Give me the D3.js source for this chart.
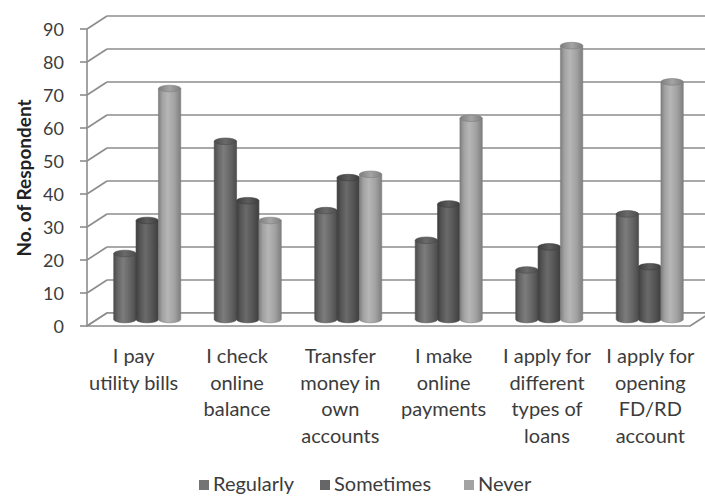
<!DOCTYPE html>
<html>
<head>
<meta charset="utf-8">
<script src="https://cdn.jsdelivr.net/npm/d3@7"></script>
<style>
  html, body { margin: 0; padding: 0; background: #fff; }
  svg { display: block; font-family: Lato, "Open Sans", sans-serif; }
</style>
</head>
<body>
<svg id="chart" width="705" height="498"></svg>
<script>
// Survey answers per activity
const categories = [
  "I pay\nutility bills",
  "I check\nonline\nbalance",
  "Transfer\nmoney in\nown\naccounts",
  "I make\nonline\npayments",
  "I apply for\ndifferent\ntypes of\nloans",
  "I apply for\nopening\nFD/RD\naccount"
];
const seriesNames = ["Regularly", "Sometimes", "Never"];
const regularly = [20, 54, 33, 24, 15, 32];
const sometimes = [30, 36, 43, 35, 22, 16];
const never     = [70, 30, 44, 61, 83, 72];
const yTicks = [0, 10, 20, 30, 40, 50, 60, 70, 80, 90];

const seriesValues = [regularly, sometimes, never];

// shading for each series: edge, mid, highlight, top cap
const shades = [
  { edge: "#4c4c4c", mid: "#666666", hi: "#7c7c7c", top: "#6a6a6a", legend: "#747474" },
  { edge: "#3e3e3e", mid: "#555555", hi: "#6a6a6a", top: "#5c5c5c", legend: "#666666" },
  { edge: "#7e7e7e", mid: "#a2a2a2", hi: "#b6b6b6", top: "#a4a4a4", legend: "#a3a3a3" }
];

const svg = d3.select("#chart");
const W = 705, H = 498;

// 3D box: front plane and depth offset towards the back wall
const frontLeft = 87, frontRight = 690;
const DX = 20, DY = -13;

const yFront = d3.scaleLinear().domain([0, 90]).range([326, 29]);
// bars stand half way into the depth
const yMid = v => yFront(v) + DY / 2;

const xCat = d3.scaleBand()
  .domain(d3.range(categories.length))
  .range([frontLeft + DX / 2, frontRight + DX / 2])
  .paddingInner(0.333)
  .paddingOuter(0.1665);

const xSeries = d3.scaleBand()
  .domain(d3.range(seriesNames.length))
  .range([0, xCat.bandwidth()]);

const xLabel = d3.scaleBand()
  .domain(d3.range(categories.length))
  .range([82, 702]);

const gridColor = "#8c8c8c";
const textColor = "#3c3c3c";

const defs = svg.append("defs");
defs.append("clipPath").attr("id", "clip")
  .append("rect").attr("x", 0).attr("y", 0).attr("width", W).attr("height", H);

shades.forEach((s, i) => {
  const g = defs.append("linearGradient").attr("id", "body" + i)
    .attr("x1", "0%").attr("x2", "100%").attr("y1", "0%").attr("y2", "0%");
  [[0, s.edge], [0.18, s.mid], [0.42, s.hi], [0.72, s.mid], [1, s.edge]]
    .forEach(([o, c]) => g.append("stop").attr("offset", o).attr("stop-color", c));
  const t = defs.append("linearGradient").attr("id", "top" + i)
    .attr("x1", "0%").attr("x2", "100%").attr("y1", "0%").attr("y2", "0%");
  [[0, s.edge], [0.5, s.top], [1, s.edge]]
    .forEach(([o, c]) => t.append("stop").attr("offset", o).attr("stop-color", c));
});

const plot = svg.append("g").attr("clip-path", "url(#clip)");

// back wall gridlines
plot.append("g").selectAll("line").data(yTicks).join("line")
  .attr("x1", frontLeft + DX).attr("x2", frontRight + DX + 20)
  .attr("y1", d => yFront(d) + DY).attr("y2", d => yFront(d) + DY)
  .attr("stroke", gridColor).attr("stroke-width", 1.6);

// side wall gridlines
plot.append("g").selectAll("line").data(yTicks).join("line")
  .attr("x1", frontLeft).attr("x2", frontLeft + DX)
  .attr("y1", d => yFront(d)).attr("y2", d => yFront(d) + DY)
  .attr("stroke", gridColor).attr("stroke-width", 1.6);

// floor
const y0 = yFront(0);
plot.append("path")
  .attr("d", `M${frontLeft},${y0} L${frontRight},${y0} L${frontRight + DX},${y0 + DY} L${frontLeft + DX},${y0 + DY} Z`)
  .attr("fill", "#fff").attr("stroke", gridColor).attr("stroke-width", 1.6)
  .attr("stroke-linejoin", "round");

// cylinders
const ry = 3.3;
const bars = [];
categories.forEach((c, ci) => {
  seriesNames.forEach((s, si) => {
    bars.push({ ci, si, v: seriesValues[si][ci] });
  });
});

const barG = plot.append("g").selectAll("g").data(bars).join("g");
barG.each(function (d) {
  const g = d3.select(this);
  const w = xSeries.bandwidth();
  const x0 = xCat(d.ci) + xSeries(d.si);
  const rx = w / 2;
  const cx = x0 + rx;
  const top = yMid(d.v);
  const bot = yMid(0);
  g.append("path")
    .attr("d", `M${x0},${top} L${x0},${bot} A${rx},${ry} 0 0 0 ${x0 + w},${bot} L${x0 + w},${top} Z`)
    .attr("fill", `url(#body${d.si})`)
    .attr("stroke", shades[d.si].edge).attr("stroke-width", 0.6);
  g.append("ellipse")
    .attr("cx", cx).attr("cy", top).attr("rx", rx).attr("ry", ry)
    .attr("fill", `url(#top${d.si})`)
    .attr("stroke", shades[d.si].edge).attr("stroke-width", 0.6);
});

// front value axis
svg.append("line")
  .attr("x1", frontLeft).attr("x2", frontLeft)
  .attr("y1", yFront(90)).attr("y2", yFront(0))
  .attr("stroke", gridColor).attr("stroke-width", 1.6);
svg.append("g").selectAll("line").data(yTicks).join("line")
  .attr("x1", frontLeft - 7).attr("x2", frontLeft)
  .attr("y1", d => yFront(d)).attr("y2", d => yFront(d))
  .attr("stroke", gridColor).attr("stroke-width", 1.6);

svg.append("g").selectAll("text").data(yTicks).join("text")
  .attr("x", 64).attr("y", d => yFront(d) + 1)
  .attr("dy", "0.36em")
  .attr("text-anchor", "end")
  .attr("font-size", 18).attr("fill", textColor)
  .text(d => d);

// axis title
svg.append("text")
  .attr("transform", `translate(31,178) rotate(-90)`)
  .attr("text-anchor", "middle")
  .attr("font-size", 19).attr("font-weight", "bold").attr("fill", "#222")
  .text("No. of Respondent");

// category labels
const lineH = 26.5;
svg.append("g").selectAll("text").data(categories).join("text")
  .attr("text-anchor", "middle")
  .attr("font-size", 20).attr("fill", textColor)
  .each(function (d, i) {
    const t = d3.select(this);
    d.split("\n").forEach((line, li) => {
      t.append("tspan")
        .attr("x", xLabel(i) + xLabel.bandwidth() / 2)
        .attr("y", 363 + li * lineH)
        .text(line);
    });
  });

// legend
const legendX = [199, 320, 464];
const legend = svg.append("g").selectAll("g").data(seriesNames).join("g")
  .attr("transform", (d, i) => `translate(${legendX[i]},480)`);
legend.append("rect")
  .attr("width", 10).attr("height", 10)
  .attr("fill", (d, i) => shades[i].legend);
legend.append("text")
  .attr("x", 14).attr("y", 11)
  .attr("font-size", 20).attr("fill", textColor)
  .text(d => d);
</script>
</body>
</html>
